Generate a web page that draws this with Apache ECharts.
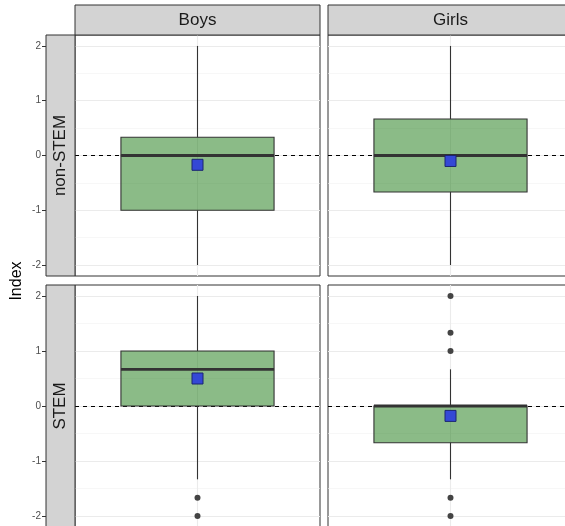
<!DOCTYPE html>
<html>
<head>
<meta charset="utf-8">
<script src="https://cdn.jsdelivr.net/npm/echarts@6/dist/echarts.min.js"></script>
<style>
  html, body { margin: 0; padding: 0; background: #fff; }
  #chart { width: 565px; height: 526px; }
</style>
</head>
<body>
<div id="chart"></div>
<script>
// Facet labels
const genders = ['Boys', 'Girls'];
const fields = ['non-STEM', 'STEM'];

// Box statistics, one entry per panel in reading order:
// non-STEM/Boys, non-STEM/Girls, STEM/Boys, STEM/Girls
const whiskerLow  = [-2, -2, -1.333, -1.333];
const q1          = [-1, -0.667, 0, -0.667];
const median      = [0, 0, 0.667, 0];
const q3          = [0.333, 0.667, 1, 0];
const whiskerHigh = [2, 2, 2, 0.667];
const means       = [-0.17, -0.10, 0.50, -0.18];
const outliers    = [[], [], [-1.667, -2], [2, 1.333, 1, -1.667, -2]];

// Axis ticks and reference line
const yTicks = [-2, -1, 0, 1, 2];
const yMinor = [-1.5, -0.5, 0.5, 1.5];
const refLine = 0;

// Layout
const PANEL_W = 245;
const colLeft = [75, 328];
const rowTop = [35, 285];
const rowHeight = [241, 242];
const STRIP = 29;
const FONT = '"Liberation Sans", Arial, Helvetica, sans-serif';

const chart = echarts.init(document.getElementById('chart'), null, { renderer: 'canvas' });

function renderBox(params, api) {
  const x = api.value(0);
  const lo = api.coord([x, api.value(1)]);
  const b1 = api.coord([x, api.value(2)]);
  const md = api.coord([x, api.value(3)]);
  const b3 = api.coord([x, api.value(4)]);
  const hi = api.coord([x, api.value(5)]);
  const w = api.size([0.75, 0])[0];
  const left = b1[0] - w / 2;
  const edge = { stroke: '#333333', lineWidth: 1.1 };
  const children = [
    { type: 'line', shape: { x1: hi[0], y1: hi[1], x2: b3[0], y2: b3[1] }, style: edge },
    { type: 'line', shape: { x1: b1[0], y1: b1[1], x2: lo[0], y2: lo[1] }, style: edge },
    { type: 'rect', shape: { x: left, y: b3[1], width: w, height: b1[1] - b3[1] },
      style: { fill: 'rgba(23,119,15,0.5)', stroke: '#333333', lineWidth: 1.1 } },
    { type: 'line', shape: { x1: left, y1: md[1], x2: left + w, y2: md[1] },
      style: { stroke: '#333333', lineWidth: 2.8 } }
  ];
  return { type: 'group', children };
}

const grids = [], xAxes = [], yAxes = [], series = [];
for (let r = 0; r < fields.length; r++) {
  for (let c = 0; c < genders.length; c++) {
    const i = r * genders.length + c;
    grids.push({
      left: colLeft[c], top: rowTop[r], width: PANEL_W, height: rowHeight[r],
      outerBoundsMode: 'none', containLabel: false,
      show: true, backgroundColor: '#ffffff', borderColor: '#333333', borderWidth: 1
    });
    xAxes.push({ gridIndex: i, type: 'value', min: 0.4, max: 1.6, show: false });
    yAxes.push({
      gridIndex: i, type: 'value', min: -2.2, max: 2.2,
      show: c === 0, offset: STRIP,
      axisLine: { show: false },
      splitLine: { show: false },
      axisTick: { show: true, customValues: yTicks, length: 4, lineStyle: { color: '#333333', width: 1 } },
      axisLabel: { show: true, customValues: yTicks, color: '#4D4D4D', fontSize: 10, fontFamily: FONT, margin: 5 }
    });

    // Panel gridlines and the dashed zero reference
    series.push({
      type: 'line', xAxisIndex: i, yAxisIndex: i, z: 1,
      data: [[1, refLine]], showSymbol: false, lineStyle: { width: 0 }, silent: true,
      markLine: {
        silent: true, z: 1, symbol: ['none', 'none'], label: { show: false }, animation: false,
        data: [
          ...yMinor.map(v => ({ yAxis: v, lineStyle: { color: '#F2F2F2', width: 0.6, type: 'solid' } })),
          ...yTicks.map(v => ({ yAxis: v, lineStyle: { color: '#EBEBEB', width: 1.1, type: 'solid' } })),
          { xAxis: 1, lineStyle: { color: '#EBEBEB', width: 1.1, type: 'solid' } },
          { yAxis: refLine, lineStyle: { color: '#000000', width: 1, type: [4, 4] } }
        ]
      }
    });

    // Box and whiskers
    series.push({
      type: 'custom', xAxisIndex: i, yAxisIndex: i, z: 10, silent: true,
      renderItem: renderBox,
      encode: { x: 0, y: [1, 2, 3, 4, 5] },
      data: [[1, whiskerLow[i], q1[i], median[i], q3[i], whiskerHigh[i]]]
    });

    // Outlying points
    series.push({
      type: 'scatter', xAxisIndex: i, yAxisIndex: i, z: 12, silent: true,
      symbol: 'circle', symbolSize: 6,
      itemStyle: { color: '#444444', opacity: 1 },
      data: outliers[i].map(v => [1, v])
    });

    // Mean marker
    series.push({
      type: 'scatter', xAxisIndex: i, yAxisIndex: i, z: 14, silent: true,
      symbol: 'rect', symbolSize: 11,
      itemStyle: { color: '#3448D6', borderColor: '#1B2570', borderWidth: 1, opacity: 1 },
      data: [[1, means[i]]]
    });
  }
}

// Facet strips and the shared y-axis title
const graphic = [];
genders.forEach((g, c) => {
  graphic.push({
    type: 'rect', z: 100,
    shape: { x: colLeft[c], y: rowTop[0] - 30, width: PANEL_W, height: 30 },
    style: { fill: '#D3D3D3', stroke: '#333333', lineWidth: 1 }
  });
  graphic.push({
    type: 'text', z: 101, x: colLeft[c] + PANEL_W / 2, y: rowTop[0] - 15,
    style: { text: g, font: '17px ' + FONT, fill: '#1A1A1A', align: 'center', verticalAlign: 'middle' }
  });
});
fields.forEach((f, r) => {
  graphic.push({
    type: 'rect', z: 100,
    shape: { x: colLeft[0] - STRIP, y: rowTop[r], width: STRIP, height: rowHeight[r] },
    style: { fill: '#D3D3D3', stroke: '#333333', lineWidth: 1 }
  });
  graphic.push({
    type: 'text', z: 101, x: colLeft[0] - STRIP / 2, y: rowTop[r] + rowHeight[r] / 2,
    rotation: Math.PI / 2,
    style: { text: f, font: '17px ' + FONT, fill: '#1A1A1A', align: 'center', verticalAlign: 'middle' }
  });
});
graphic.push({
  type: 'text', z: 101, x: 17, y: (rowTop[0] + rowTop[1] + rowHeight[1]) / 2,
  rotation: Math.PI / 2,
  style: { text: 'Index', font: '16px ' + FONT, fill: '#000000', align: 'center', verticalAlign: 'middle' }
});

chart.setOption({
  animation: false,
  backgroundColor: '#ffffff',
  grid: grids,
  xAxis: xAxes,
  yAxis: yAxes,
  series: series,
  graphic: graphic
});
</script>
</body>
</html>
